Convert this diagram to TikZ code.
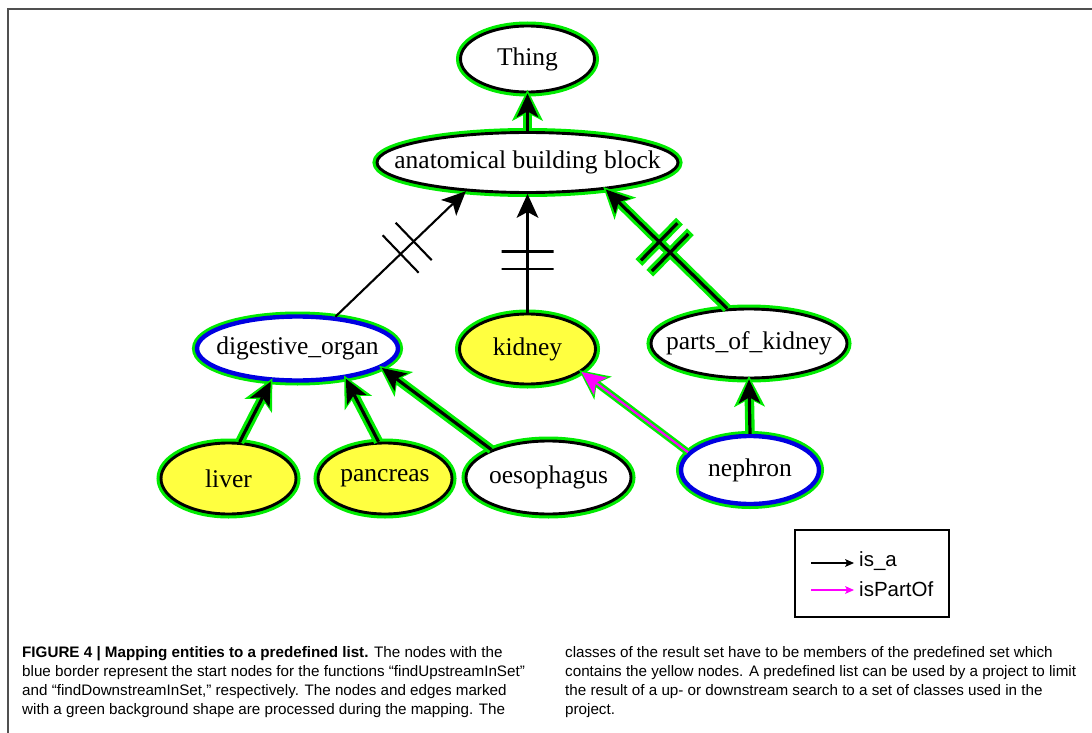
\documentclass[tikz,border=0pt]{standalone}
\usepackage{fontspec}
\setmainfont{Liberation Serif}
\newfontfamily\capfont{Liberation Sans}
\usetikzlibrary{arrows.meta,shapes.geometric}

\definecolor{halo}{RGB}{0,235,0}
\definecolor{startblue}{RGB}{0,0,225}
\definecolor{setyellow}{RGB}{255,255,64}
\definecolor{partof}{RGB}{255,0,255}
\definecolor{framegray}{RGB}{80,80,80}

% label text takes no width, so the ellipse size is set by minimum width/height
\newcommand{\ntext}[1]{\makebox[0pt]{#1}}

\begin{document}
\begin{tikzpicture}[x=1pt,y=-1pt,
  classbase/.style={ellipse, inner sep=0pt, fill=white,
    font=\fontsize{25.5}{30}\selectfont},
  cls/.style={classbase, draw=black, line width=2.9pt,
    preaction={draw=halo, line width=9pt}},
  setcls/.style={cls, fill=setyellow},
  startcls/.style={classbase, draw=startblue, line width=4.4pt,
    preaction={draw=halo, line width=10pt}},
  tipblack/.tip={Stealth[length=24pt,width=22pt,inset=6pt,line width=0pt]},
  tiphalo/.tip={Stealth[length=31pt,width=31pt,inset=8pt,line width=0pt]},
  isa/.style={draw=black, line width=3.2pt, -tipblack},
  isahalo/.style={draw=halo, line width=9.5pt, shorten >=-3.5pt, -tiphalo},
  isathin/.style={draw=black, line width=2.1pt, -tipblack},
  partofedge/.style={draw=partof, line width=2.2pt,
    -{Stealth[length=24pt,width=22pt,inset=6pt,line width=0pt]}},
  partofhalo/.style={draw=halo, line width=7pt, shorten >=-3pt,
    -{Stealth[length=30pt,width=29pt,inset=8pt,line width=0pt]}},
  tick/.style={rectangle, sloped, draw=black, fill=none, line width=2.1pt,
    minimum width=0pt, minimum height=52pt, inner sep=0pt},
  tickthick/.style={tick, line width=3.2pt},
  tickhalo/.style={tick, draw=halo, line width=9.5pt, minimum height=58pt},
  legendtext/.style={anchor=west, inner sep=0pt,
    font=\capfont\fontsize{20.5}{23}\selectfont},
  legendarrow/.style={line width=1.8pt, shorten >=5pt,
    -{Stealth[length=9pt,width=8pt,inset=2pt,line width=0pt]}},
  caption/.style={anchor=north west, inner sep=0pt, align=left,
    font=\capfont\fontsize{15.2}{19.2}\selectfont}
]
\useasboundingbox (0,0) rectangle (1092,733);

% page frame
\draw[framegray, line width=1.6pt] (8,733) -- (8,9) -- (1092,9);

% classes
\node[cls, minimum width=134pt, minimum height=66pt] (thing) at (527.5,59) {\ntext{Thing}};
\node[cls, minimum width=301pt, minimum height=60pt] (abb) at (527.5,162.5) {\ntext{anatomical building block}};
\node[startcls, minimum width=201pt, minimum height=64pt] (do) at (297.5,348.5) {\ntext{digestive\_organ}};
\node[setcls, minimum width=136pt, minimum height=70pt] (kid) at (527.5,349) {\ntext{kidney}};
\node[cls, minimum width=196pt, minimum height=69pt] (pok) at (749,343.5) {\ntext{parts\_of\_kidney}};
\node[setcls, minimum width=135pt, minimum height=71pt] (liver) at (228.5,478.5) {\ntext{liver}};
\node[setcls, minimum width=134pt, minimum height=71pt] (panc) at (385,478.5) {\ntext{pancreas}};
\node[cls, minimum width=165pt, minimum height=73pt] (oes) at (548.5,477.5) {\ntext{oesophagus}};
\node[startcls, minimum width=138pt, minimum height=68pt] (neph) at (750,470) {\ntext{nephron}};

% green background shapes of the processed edges
\draw[isahalo] (abb.north) -- (thing.south);
\draw[isahalo] (pok.122) -- (abb.341)
  node[tickhalo, pos=0.47] {} node[tickhalo, pos=0.56] {};
\draw[isahalo] (liver.73) -- (do.231);
\draw[isahalo] (panc.100) -- (do.328);
\draw[isahalo] (oes.154) -- (do.347);
\draw[isahalo] (neph.north) -- (pok.south);
\draw[partofhalo] (neph.164) -- (kid.337);

% is_a edges
\draw[isa] (abb.north) -- (thing.south);
\draw[isathin] (do.40) -- (abb.205)
  node[tick, pos=0.50] {} node[tick, pos=0.60] {};
\draw[isathin] (kid.north) -- (abb.south)
  node[tick, pos=0.37] {} node[tick, pos=0.515] {};
\draw[isa] (pok.122) -- (abb.341)
  node[tickthick, pos=0.47] {} node[tickthick, pos=0.56] {};
\draw[isa] (liver.73) -- (do.231);
\draw[isa] (panc.100) -- (do.328);
\draw[isa] (oes.154) -- (do.347);
\draw[isa] (neph.north) -- (pok.south);

% isPartOf edge
\draw[partofedge] (neph.164) -- (kid.337);

% legend
\node[draw=black, line width=2pt, minimum width=154pt, minimum height=87pt, inner sep=0pt] (legend) at (872,573) {};
\node[legendtext] (lisa) at (859,561) {is\_a};
\node[legendtext] (lpart) at (859,589) {isPartOf};
\coordinate (lisastart) at (811,563);
\coordinate (lpartstart) at (811,590);
\draw[legendarrow, black] (lisastart) -- (lisastart -| lisa.west);
\draw[legendarrow, partof] (lpartstart) -- (lpartstart -| lpart.west);

% caption
\node[caption] (capleft) at (22,646) {%
{\bfseries FIGURE 4 | Mapping entities to a predefined list.} The nodes with the\\
blue border represent the start nodes for the functions “findUpstreamInSet”\\
and “findDownstreamInSet,” respectively. The nodes and edges marked\\
with a green background shape are processed during the mapping. The};
\node[caption] (capright) at (565,646) {%
classes of the result set have to be members of the predefined set which\\
contains the yellow nodes. A predefined list can be used by a project to limit\\
the result of a up- or downstream search to a set of classes used in the\\
project.};
\end{tikzpicture}
\end{document}
